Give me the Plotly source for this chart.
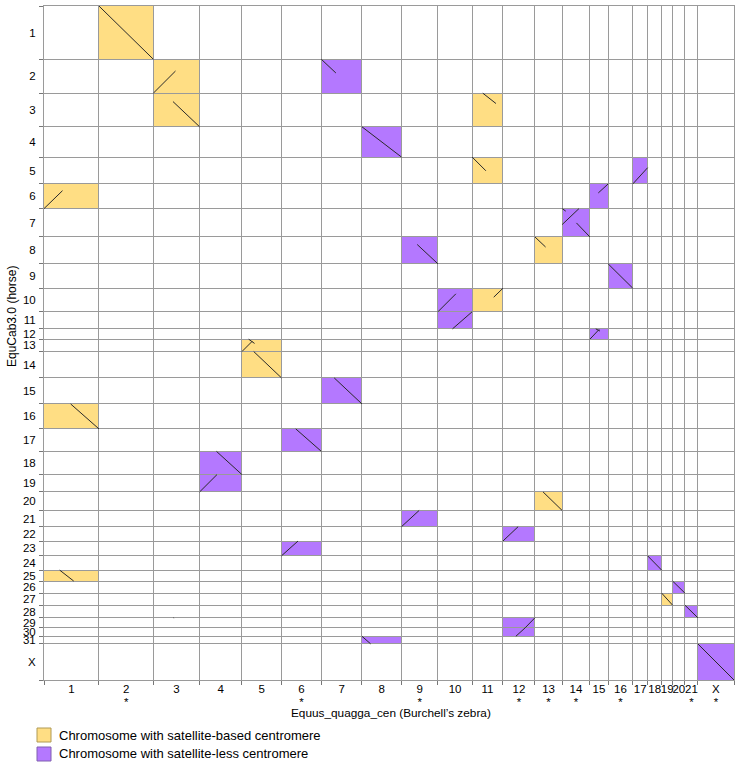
import plotly.graph_objects as go

# ---------------- data ----------------
zebra_chr = ["1", "2", "3", "4", "5", "6", "7", "8", "9", "10", "11", "12", "13", "14",
             "15", "16", "17", "18", "19", "20", "21", "X"]
zebra_len = [196, 194, 165, 151, 141, 142, 145, 141, 130, 122, 110, 114, 97, 99,
             65, 88, 53, 50, 39, 44, 46, 129]
zebra_star = ["2", "6", "9", "12", "13", "14", "16", "21", "X"]

horse_chr = ["1", "2", "3", "4", "5", "6", "7", "8", "9", "10", "11", "12", "13", "14",
             "15", "16", "17", "18", "19", "20", "21", "22", "23", "24", "25", "26",
             "27", "28", "29", "30", "31", "X"]
horse_len = [190, 121, 120, 108, 96, 88, 101, 96, 87, 84, 61, 37, 44, 94, 93, 89, 80,
             83, 62, 66, 58, 51, 53, 51, 39, 43, 43, 45, 36, 30, 27, 129]

# (zebra chromosome, horse chromosome)
satellite_based = [("2", "1"), ("3", "2"), ("3", "3"), ("1", "6"), ("11", "3"), ("11", "5"),
                   ("13", "8"), ("11", "10"), ("5", "13"), ("5", "14"), ("1", "16"),
                   ("13", "20"), ("1", "25"), ("19", "27")]
satellite_less = [("7", "2"), ("8", "4"), ("17", "5"), ("15", "6"), ("14", "7"), ("9", "8"),
                  ("16", "9"), ("10", "10"), ("10", "11"), ("15", "12"), ("7", "15"),
                  ("6", "17"), ("4", "18"), ("4", "19"), ("9", "21"), ("12", "22"),
                  ("6", "23"), ("18", "24"), ("20", "26"), ("21", "28"), ("12", "29"),
                  ("12", "30"), ("8", "31"), ("X", "X")]

# alignments: zebra chr, zebra start, zebra end (Mb), horse chr, horse start, horse end (Mb)
aln_zebra = ["2", "3", "3", "1", "7", "11", "8", "11", "17", "15", "14", "14", "14", "13",
             "9", "16", "10", "10", "11", "15", "15", "5", "5", "5", "1", "7", "6", "4",
             "4", "13", "9", "12", "6", "18", "1", "20", "19", "21", "12", "12", "8", "X", "3"]
aln_z0 = [0, 0, 70, 0, 0, 38, 0, 0, 0, 30, 0, 0, 51, 0,
          56, 0, 0, 52, 77, 0, 21, 0, 24, 42, 95, 46, 51, 60,
          0, 29, 0, 0, 0, 0, 56, 0, 0, 0, 46, 79, 0, 0, 72]
aln_z1 = [194, 79, 165, 66, 52, 85, 141, 49, 53, 65, 13, 60, 99, 38,
          130, 88, 64, 122, 110, 33, 36, 37, 45, 141, 196, 145, 142, 151,
          62, 97, 63, 54, 59, 50, 106, 44, 39, 46, 79, 114, 31, 129, 74]
aln_horse = ["1", "2", "3", "6", "2", "3", "4", "5", "5", "6", "7", "7", "7", "8",
             "8", "9", "10", "11", "10", "12", "12", "13", "13", "14", "16", "15", "17", "18",
             "19", "20", "21", "22", "23", "24", "25", "26", "27", "28", "30", "29", "31", "X", "29"]
aln_h0 = [0, 121, 30, 88, 0, 0, 0, 0, 96, 32, 0, 57, 51, 0,
          27, 0, 84, 61, 32, 37, 0, 44, 0, 0, 0, 0, 0, 0,
          62, 0, 58, 51, 53, 0, 0, 0, 0, 0, 30, 36, 0, 0, 0]
aln_h1 = [190, 42, 120, 24, 49, 37, 108, 49, 38, 0, 9, 0, 101, 36,
          96, 87, 20, 0, 0, 2, 8, 7, 15, 94, 89, 93, 80, 83,
          0, 66, 0, 0, 0, 51, 39, 43, 43, 45, 0, 0, 27, 129, 1]

# ---------------- layout helpers ----------------
W, H = 740, 766
L, R, T, B = 44, 6, 6, 86
PW, PH = W - L - R, H - T - B
FONT = "Liberation Sans, Arial, sans-serif"
YELLOW = "#FFDE84"
PURPLE = "#B478FF"
GRID = "#9a9a9a"


def px_x(px):
    return (px - L) / PW


def px_y(py):
    return (H - B - py) / PH


def offsets(lengths):
    out, s = [], 0
    for v in lengths:
        out.append(s)
        s += v
    return out, s


z_off, z_tot = offsets(zebra_len)
h_off, h_tot = offsets(horse_len)
zi = {c: i for i, c in enumerate(zebra_chr)}
hi = {c: i for i, c in enumerate(horse_chr)}

z_bounds = z_off + [z_tot]
h_bounds = h_off + [h_tot]
z_mid = [o + l / 2 for o, l in zip(z_off, zebra_len)]
h_mid = [o + l / 2 for o, l in zip(h_off, horse_len)]
star_pos = [z_mid[zi[c]] for c in zebra_star]

fig = go.Figure()

# alignment segments
xs, ys = [], []
for zc, a0, a1, hc, b0, b1 in zip(aln_zebra, aln_z0, aln_z1, aln_horse, aln_h0, aln_h1):
    xs += [z_off[zi[zc]] + a0, z_off[zi[zc]] + a1, None]
    ys += [h_off[hi[hc]] + b0, h_off[hi[hc]] + b1, None]
fig.add_trace(go.Scatter(x=xs, y=ys, mode="lines", line=dict(color="#2a2a2a", width=1),
                         hoverinfo="skip", showlegend=False))
# helper traces to hold label axes
fig.add_trace(go.Scatter(x=[None], y=[None], xaxis="x2", yaxis="y2", showlegend=False,
                         hoverinfo="skip"))
fig.add_trace(go.Scatter(x=[None], y=[None], xaxis="x3", yaxis="y", showlegend=False,
                         hoverinfo="skip"))

shapes = []
for blocks, col in ((satellite_based, YELLOW), (satellite_less, PURPLE)):
    for zc, hc in blocks:
        i, j = zi[zc], hi[hc]
        shapes.append(dict(type="rect", xref="x", yref="y", layer="below",
                           x0=z_off[i], x1=z_off[i] + zebra_len[i],
                           y0=h_off[j], y1=h_off[j] + horse_len[j],
                           fillcolor=col, line=dict(width=0)))

# legend (drawn manually)
legend_items = [("Chromosome with satellite-based centromere", YELLOW, "#b09a55"),
                ("Chromosome with satellite-less centromere", PURPLE, "#8060b0")]
annotations = []
for k, (txt, col, edge) in enumerate(legend_items):
    top = 728 + k * 19
    shapes.append(dict(type="rect", xref="paper", yref="paper",
                       x0=px_x(37), x1=px_x(51), y0=px_y(top), y1=px_y(top + 14),
                       fillcolor=col, line=dict(color=edge, width=1)))
    annotations.append(dict(text=txt, xref="paper", yref="paper", x=px_x(57), y=px_y(top + 7),
                            xanchor="left", yanchor="middle", showarrow=False,
                            font=dict(family=FONT, size=13, color="#000")))

annotations.append(dict(text="Equus_quagga_cen (Burchell’s zebra)", xref="paper", yref="paper",
                        x=px_x(391), y=px_y(713), xanchor="center", yanchor="middle",
                        showarrow=False, font=dict(family=FONT, size=11.8, color="#000")))
annotations.append(dict(text="EquCab3.0 (horse)", xref="paper", yref="paper",
                        x=px_x(12), y=px_y(317), xanchor="center", yanchor="middle",
                        textangle=-90, showarrow=False,
                        font=dict(family=FONT, size=12, color="#000")))

axis_common = dict(showgrid=True, gridcolor=GRID, gridwidth=1, zeroline=False,
                   showline=True, mirror=True, linecolor=GRID, linewidth=1,
                   ticks="outside", ticklen=4, tickcolor="#777", showticklabels=False,
                   tickmode="array")
label_font = dict(family=FONT, size=11.5, color="#000")

fig.update_layout(
    width=W, height=H,
    margin=dict(l=L, r=R, t=T, b=B),
    paper_bgcolor="white", plot_bgcolor="white",
    showlegend=False,
    shapes=shapes, annotations=annotations,
    xaxis=dict(range=[0, z_tot], tickvals=z_bounds, **axis_common),
    yaxis=dict(range=[h_tot, 0], tickvals=h_bounds, **axis_common),
    xaxis2=dict(range=[0, z_tot], overlaying="x", anchor="y", side="bottom",
                tickmode="array", tickvals=z_mid, ticktext=zebra_chr, tickangle=0,
                showgrid=False, zeroline=False, showline=False,
                ticks="", tickfont=label_font),
    xaxis3=dict(range=[0, z_tot], overlaying="x", anchor="y", side="bottom",
                tickmode="array", tickvals=star_pos, ticktext=["*"] * len(star_pos),
                tickangle=0, showgrid=False, zeroline=False, showline=False,
                ticks="outside", ticklen=11, tickcolor="rgba(0,0,0,0)",
                tickfont=label_font),
    yaxis2=dict(range=[h_tot, 0], overlaying="y", anchor="x", side="left",
                tickmode="array", tickvals=h_mid, ticktext=horse_chr,
                showgrid=False, zeroline=False, showline=False,
                ticks="outside", ticklen=5, tickcolor="rgba(0,0,0,0)",
                tickfont=label_font),
)

fig.write_html("out.html", config={"displayModeBar": False},
               post_script="document.body.style.margin='0px';document.body.style.overflow='hidden';")
